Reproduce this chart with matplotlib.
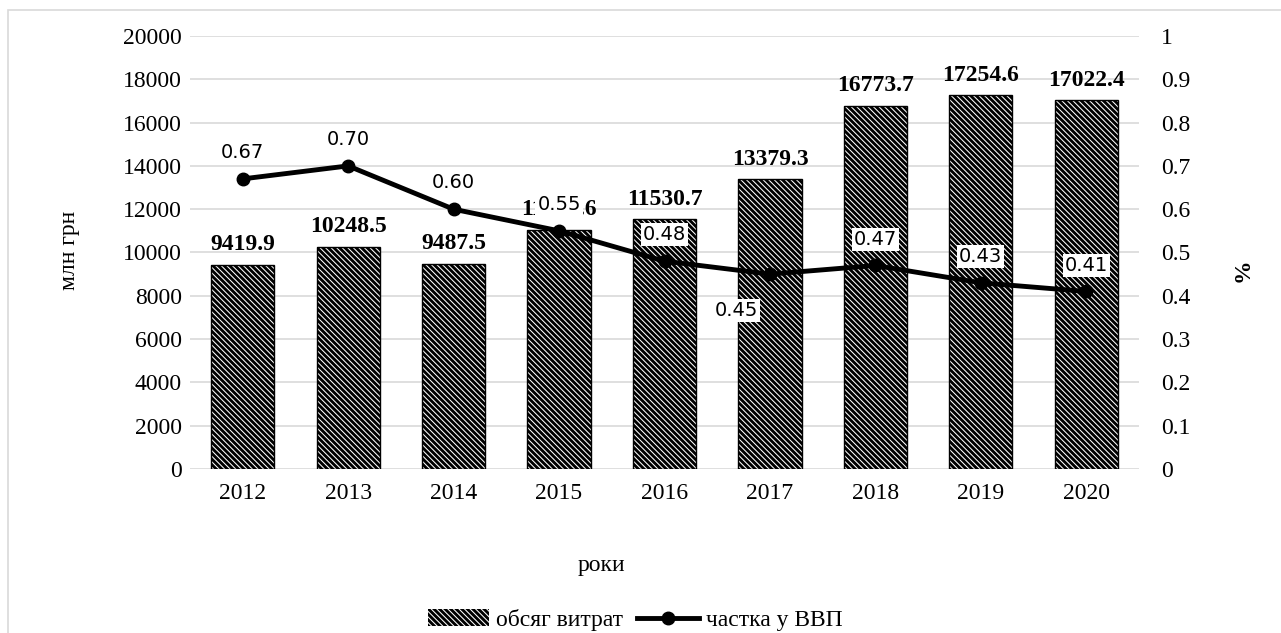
import matplotlib
matplotlib.use('Agg')
import matplotlib.pyplot as plt
from matplotlib.patches import Rectangle, Patch
from matplotlib.lines import Line2D

years = ['2012', '2013', '2014', '2015', '2016', '2017', '2018', '2019', '2020']
spending = [9419.9, 10248.5, 9487.5, 11055.6, 11530.7, 13379.3, 16773.7, 17254.6, 17022.4]
share = [0.67, 0.70, 0.60, 0.55, 0.48, 0.45, 0.47, 0.43, 0.41]
share_labels = ['0.67', '0.70', '0.60', '0.55', '0.48', '0.45', '0.47', '0.43', '0.41']

plt.rcParams['font.family'] = ['Liberation Serif', 'DejaVu Serif']
plt.rcParams['hatch.linewidth'] = 0.75

fs = 17
hatch = '\\' * 6
fig = plt.figure(figsize=(12.81, 6.33), dpi=100)
ax = fig.add_axes([190 / 1281, 1 - 469 / 633, (1139 - 190) / 1281, (469 - 36) / 633])

# light frame round the chart
fig.patches.append(Rectangle((8 / 1281, -0.1), 1.2, 1 - 10 / 633 + 0.1,
                             transform=fig.transFigure, fill=False,
                             edgecolor='#d9d9d9', lw=1.2))

x = range(len(years))
ax.bar(x, spending, width=0.6, color='black', edgecolor='white',
       hatch=hatch, linewidth=0, zorder=2)
ax.bar(x, spending, width=0.6, fill=False, edgecolor='black', linewidth=1, zorder=3)
for i, v in enumerate(spending):
    ax.annotate('{0:.1f}'.format(v), (i, v), xytext=(0, 7), textcoords='offset points',
                ha='center', va='bottom', fontsize=fs, fontweight='bold', zorder=4)

ax.set_ylim(0, 20000)
ax.set_xlim(-0.5, len(years) - 0.5)
ax.set_yticks(range(0, 20001, 2000))
ax.set_xticks(list(x))
ax.set_xticklabels(years)
ax.grid(axis='y', color='#d9d9d9', lw=1.2, zorder=0)
ax.set_axisbelow(True)
for s in ax.spines.values():
    s.set_visible(False)
ax.tick_params(axis='both', length=0, labelsize=fs)
ax.tick_params(axis='y', pad=6)
ax.tick_params(axis='x', pad=10)

ax2 = ax.twinx()
ax2.set_ylim(0, 1)
ax2.set_yticks([i / 10 for i in range(11)])
ax2.set_yticklabels(['0'] + ['0.{0}'.format(i) for i in range(1, 10)] + ['1'])
for s in ax2.spines.values():
    s.set_visible(False)
ax2.tick_params(axis='y', length=0, labelsize=fs, pad=16)
ax2.plot(list(x), share, color='black', lw=3.5, marker='o', markersize=9, zorder=5)
for i, v in enumerate(share):
    off = (0, 19)
    if share_labels[i] == '0.45':
        off = (-24, -26)
    ax2.annotate(share_labels[i], (i, v), xytext=off, textcoords='offset points',
                 ha='center', va='center', fontsize=14, family='DejaVu Sans',
                 bbox=dict(boxstyle='square,pad=0.1', fc='white', ec='none'), zorder=6)

fig.text(70 / 1281, 1 - 250 / 633, 'млн грн', rotation=90, ha='center', va='center', fontsize=fs)
fig.text(1243 / 1281, 1 - 270 / 633, '%', rotation=90, ha='center', va='center',
         fontsize=fs, fontweight='bold')
fig.text(601 / 1281, 1 - 566 / 633, 'роки', ha='center', va='center', fontsize=fs)

handles = [Patch(facecolor='black', edgecolor='white', hatch=hatch, lw=0),
           Line2D([0], [0], color='black', lw=3.5, marker='o', markersize=9)]
fig.legend(handles, ['обсяг витрат', 'частка у ВВП'], loc='center',
           bbox_to_anchor=(635 / 1281, 1 - 620 / 633), ncol=2, frameon=False,
           fontsize=fs, handlelength=2.6, handletextpad=0.3, columnspacing=0.6)

fig.savefig('out.png', dpi=100)
